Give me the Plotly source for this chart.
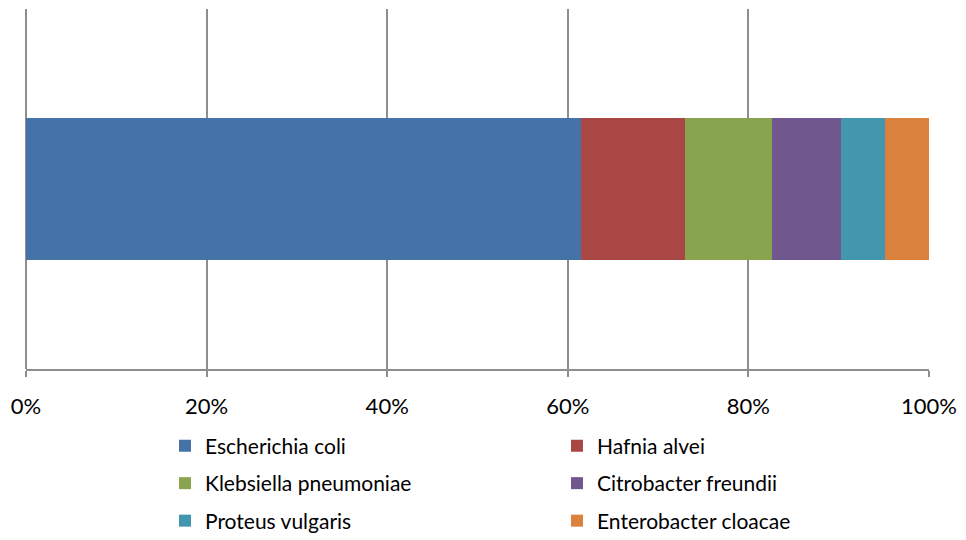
import plotly.graph_objects as go

# Share of isolates by species (percent of total)
species = [
    "Escherichia coli",
    "Hafnia alvei",
    "Klebsiella pneumoniae",
    "Citrobacter freundii",
    "Proteus vulgaris",
    "Enterobacter cloacae",
]
shares = [61.5, 11.5, 9.6, 7.6, 4.9, 4.9]
colors = ["#4673A7", "#A84744", "#89A44E", "#70588F", "#4297AF", "#DA823D"]
category = [""]
tick_values = [0, 20, 40, 60, 80, 100]
tick_labels = [f"{v}%" for v in tick_values]

W, H = 966, 540
M_L, M_R, M_T, M_B = 26, 37, 9, 171

fig = go.Figure()
for i, (name, val, col) in enumerate(zip(species, shares, colors)):
    legend_id = "legend" if i // 2 == 0 else f"legend{i // 2 + 1}"
    fig.add_trace(go.Bar(
        y=category,
        x=[val],
        name=name,
        orientation="h",
        marker=dict(color=col, line=dict(width=0)),
        width=0.395,
        legend=legend_id,
        hovertemplate=name + ": %{x}%<extra></extra>",
    ))

font_family = "Lato, Carlito, 'Liberation Sans', sans-serif"

plot_h = H - M_T - M_B
plot_w = W - M_L - M_R


def legend_row(center_px):
    # one legend per row of two entries, centred on the given pixel row
    return dict(
        orientation="h",
        x=(165 - M_L) / plot_w,
        xanchor="left",
        y=(H - M_B - (center_px - 1)) / plot_h,
        yanchor="middle",
        entrywidth=347,
        itemwidth=30,
        font=dict(family=font_family, size=21, color="#000000"),
        bgcolor="rgba(0,0,0,0)",
        borderwidth=0,
        traceorder="normal",
    )


fig.update_layout(
    width=W,
    height=H,
    margin=dict(l=M_L, r=M_R, t=M_T, b=M_B, pad=0, autoexpand=False),
    barmode="stack",
    plot_bgcolor="white",
    paper_bgcolor="white",
    showlegend=True,
    legend=legend_row(447),
    legend2=legend_row(484.5),
    legend3=legend_row(522),
    xaxis=dict(
        range=[0, 100],
        tickvals=tick_values,
        ticktext=tick_labels,
        showgrid=True,
        gridcolor="#8E8E8E",
        gridwidth=2,
        zeroline=True,
        zerolinecolor="#8E8E8E",
        zerolinewidth=2,
        showline=True,
        linecolor="#8E8E8E",
        linewidth=2,
        ticks="outside",
        ticklen=6,
        tickwidth=2,
        tickcolor="#8E8E8E",
        ticklabelstandoff=11,
        tickfont=dict(family=font_family, size=22, color="#000000"),
        fixedrange=True,
    ),
    yaxis=dict(
        range=[-0.5, 0.5],
        showticklabels=False,
        showgrid=False,
        zeroline=False,
        showline=False,
        ticks="",
        fixedrange=True,
    ),
)

fig.write_html("out.html")
